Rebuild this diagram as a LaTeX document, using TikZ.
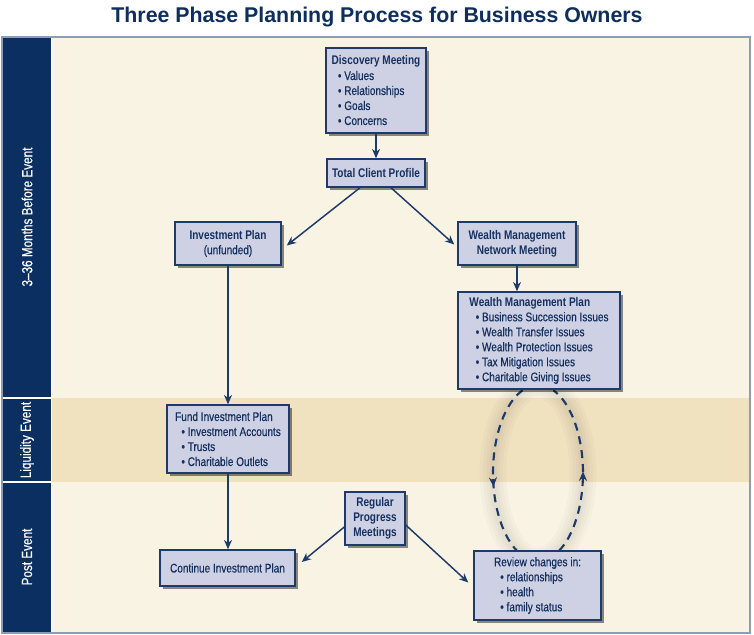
\documentclass[tikz,border=0pt]{standalone}
\usepackage{fontspec}
\setmainfont{Liberation Sans}[FakeStretch=0.8, UprightFeatures={FakeBold=0.5}]
\newfontfamily\titlefont{Liberation Sans}
\usetikzlibrary{arrows.meta,shadows,positioning,calc}

\definecolor{stripnavy}{HTML}{0B2F60}
\definecolor{cream}{HTML}{F9F3E3}
\definecolor{tan}{HTML}{F0E1BF}
\definecolor{boxfill}{HTML}{CED1E4}
\definecolor{boxline}{HTML}{1D3A6B}
\definecolor{boxtext}{HTML}{15305F}
\definecolor{titleblue}{HTML}{0E2E5E}
\definecolor{framegray}{HTML}{8C9DB8}

\tikzset{
  box/.style={draw=boxline, fill=boxfill, line width=1.1pt, text=boxtext,
    align=left, inner sep=0pt, font=\fontsize{9.4}{11.25}\selectfont,
    drop shadow={shadow xshift=2.5pt, shadow yshift=-2.5pt, opacity=0.45, fill=black}},
  sz/.style 2 args={minimum width=#1*0.75pt, minimum height=#2*0.75pt},
  link/.style={draw=boxline, line width=1.1pt, -{Stealth[length=7pt,width=6pt]}},
  loopline/.style={draw=boxline, line width=1.6pt, dash pattern=on 6pt off 4.5pt},
  phase/.style={text=white, rotate=90, font=\fontsize{11}{13}\selectfont}
}
\newcommand{\bul}{\hspace{0.5em}\textbullet\ }

\begin{document}
\begin{tikzpicture}[x=0.75pt, y=-0.75pt]
\useasboundingbox (0,0) rectangle (754,635);
\fill[white] (0,0) rectangle (754,635);

% bands
\fill[cream] (51,37) rectangle (750,398);
\fill[tan] (51,398) rectangle (750,482);
\fill[cream] (51,482) rectangle (750,633);
\fill[stripnavy] (2,37) rectangle (51,633);
\draw[white, line width=0.8pt] (2,398) -- (51,398);
\draw[white, line width=0.8pt] (2,482) -- (51,482);
\draw[white!80!cream, line width=0.6pt] (51.5,37) -- (51.5,633);
\draw[framegray, line width=1.1pt] (2,37) rectangle (750,633);

\node[text=titleblue, font=\titlefont\fontsize{16}{19}\bfseries] (title) at (377,17) {Three Phase Planning Process for Business Owners};

\node[phase] (before) at (27,217) {3–36 Months Before Event};
\node[phase] (liquid) at (27,440) {Liquidity Event};
\node[phase] (post) at (27,557) {Post Event};

% review loop
\coordinate (loop) at (538,473);
\foreach \w in {20,15,10,6}
  \draw[black, line width=\w pt, opacity=0.018] (loop) ellipse [x radius=45, y radius=88];
\draw[loopline] plot[domain=250:118, samples=40] ({538+45*cos(\x)},{473+88*sin(\x)});
\draw[loopline] plot[domain=62:-70, samples=40] ({538+45*cos(\x)},{473+88*sin(\x)});
\draw[link, line width=1.6pt] plot[domain=176:171, samples=3] ({538+45*cos(\x)},{473+88*sin(\x)});
\draw[link, line width=1.6pt] plot[domain=4:-1, samples=3] ({538+45*cos(\x)},{473+88*sin(\x)});

% boxes
\node[box, sz={100}{85}] (disc) at (376,90.5) {\textbf{Discovery Meeting}\\\bul Values\\\bul Relationships\\\bul Goals\\\bul Concerns};
\node[box, sz={98}{28}] (tcp) at (376,173) {\textbf{Total Client Profile}};
\node[box, sz={106}{43}, align=center] (inv) at (228,243.5) {\textbf{Investment Plan}\\(unfunded)};
\node[box, sz={118}{43}, align=center] (wmnm) at (517,243.5) {\textbf{Wealth Management}\\\textbf{Network Meeting}};
\node[box, sz={162}{97}] (wmp) at (539,340.5) {\textbf{Wealth Management Plan}\\\bul Business Succession Issues\\\bul Wealth Transfer Issues\\\bul Wealth Protection Issues\\\bul Tax Mitigation Issues\\\bul Charitable Giving Issues};
\node[box, sz={122}{68}] (fund) at (228,439) {Fund Investment Plan\\\bul Investment Accounts\\\bul Trusts\\\bul Charitable Outlets};
\node[box, sz={135}{36}] (cont) at (227.5,568) {Continue Investment Plan};
\node[box, sz={60}{53}, align=center] (rpm) at (375,518.5) {\textbf{Regular}\\\textbf{Progress}\\\textbf{Meetings}};
\node[box, sz={127}{69}] (rev) at (537.5,585.5) {Review changes in:\\\bul relationships\\\bul health\\\bul family status};

% connectors
\draw[link] (disc) -- (tcp);
\draw[link] ($(tcp.south)+(-16,0)$) -- ($(inv.east)+(5,2)$);
\draw[link] ($(tcp.south)+(15,0)$) -- ($(wmnm.west)+(-3,1)$);
\draw[link] (inv) -- (fund);
\draw[link] (wmnm.south) -- (wmnm.south |- wmp.north);
\draw[link] (fund.south) -- (fund.south |- cont.north);
\draw[link] ($(rpm.west)+(0,8.5)$) -- ($(cont.east)+(6,-6)$);
\draw[link] ($(rpm.east)+(0,6.5)$) -- ($(rev.west)+(-5,-3)$);
\end{tikzpicture}
\end{document}
